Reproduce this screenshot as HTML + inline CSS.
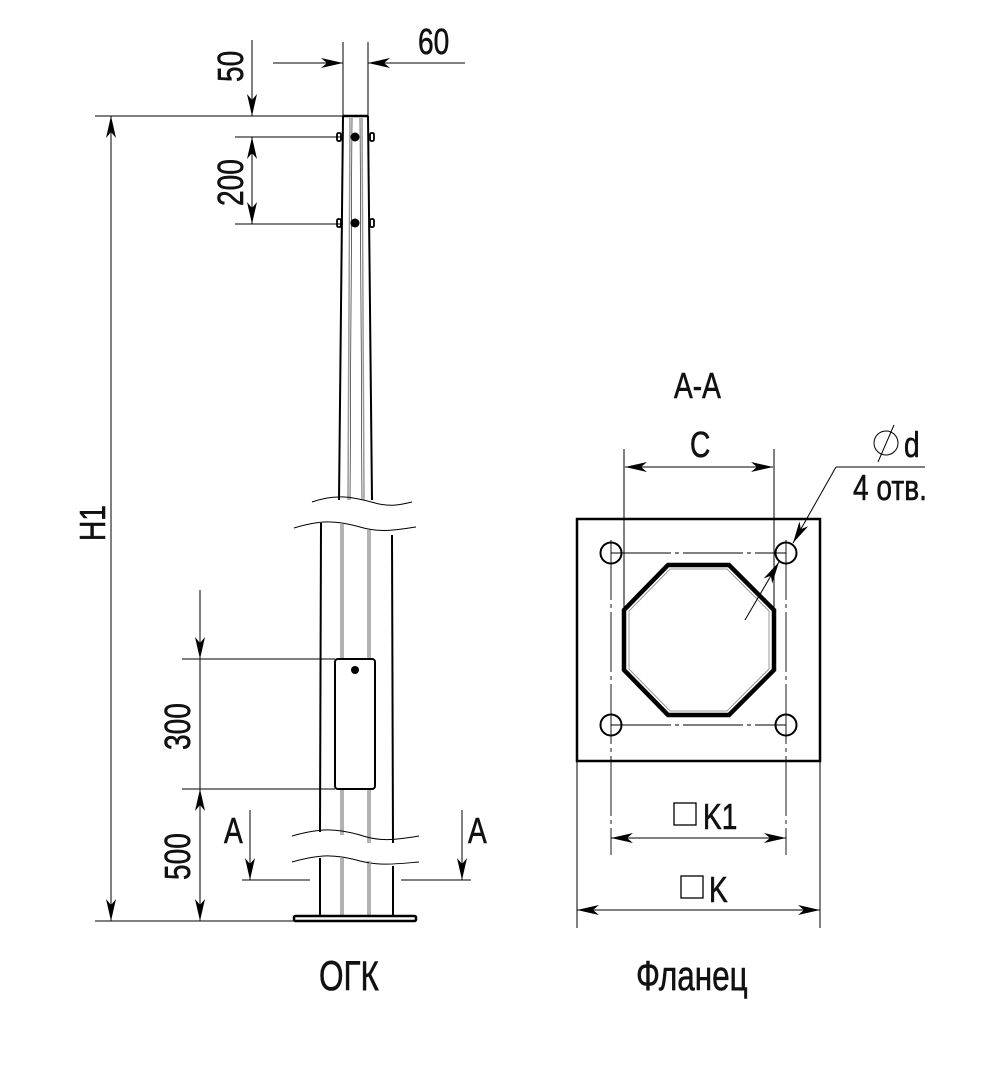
<!DOCTYPE html>
<html><head><meta charset="utf-8"><style>
html,body{margin:0;padding:0;background:#fff;}
svg{display:block}
text{font-family:"Liberation Sans Narrow","Liberation Sans",sans-serif;fill:#111;stroke:#111;stroke-width:0.6;}
</style></head><body>
<svg width="989" height="1072" viewBox="0 0 989 1072" xmlns="http://www.w3.org/2000/svg">
<defs>
<marker id="a" viewBox="0 0 22 10" refX="22" refY="5" markerWidth="22" markerHeight="10" markerUnits="userSpaceOnUse" orient="auto-start-reverse">
<path d="M0,0 L22,5 L0,10 L6,5 Z" fill="#000"/></marker>
</defs>
<g stroke="#000" stroke-width="1" fill="none">
<line x1="343" y1="42" x2="343" y2="116"/>
<line x1="368" y1="42" x2="368" y2="116"/>
<line x1="273" y1="63" x2="343" y2="63" marker-end="url(#a)"/>
<line x1="465" y1="63" x2="368" y2="63" marker-end="url(#a)"/>
<line x1="252" y1="40" x2="252" y2="116" marker-end="url(#a)"/>
<line x1="252" y1="137" x2="252" y2="224" marker-start="url(#a)" marker-end="url(#a)"/>
<line x1="95" y1="116" x2="343" y2="116"/>
<line x1="235" y1="137" x2="343" y2="137"/>
<line x1="235" y1="224" x2="343" y2="224"/>
<line x1="111" y1="116" x2="111" y2="921" marker-start="url(#a)" marker-end="url(#a)"/>
<line x1="95" y1="921" x2="294" y2="921"/>
<line x1="200" y1="590" x2="200" y2="659" marker-end="url(#a)"/>
<line x1="200" y1="659" x2="200" y2="789"/>
<line x1="200" y1="789" x2="200" y2="921" marker-start="url(#a)" marker-end="url(#a)"/>
<line x1="182" y1="659" x2="335" y2="659"/>
<line x1="182" y1="789" x2="335" y2="789"/>
<line x1="250" y1="810" x2="250" y2="880" marker-end="url(#a)"/>
<line x1="242" y1="880" x2="310" y2="880"/>
<line x1="462" y1="810" x2="462" y2="880" marker-end="url(#a)"/>
<line x1="401" y1="880" x2="471" y2="880"/>
</g>
<g fill="none">
<path d="M343,116 L339,500 M368,116 L372,500" stroke="#000" stroke-width="2"/>
<line x1="343" y1="116" x2="368" y2="116" stroke="#000" stroke-width="2.5"/>
<path d="M350,118 L348,500 M362,118 L364,500" stroke="#999" stroke-width="1.5"/>
<path d="M352,118 L350,500 M360,118 L362,500" stroke="#000" stroke-width="0.6"/>
<g stroke="#000" stroke-width="1.8">
<rect x="337" y="133" width="4" height="8" rx="1.5"/><rect x="370" y="133" width="4" height="8" rx="1.5"/>
<rect x="337" y="219" width="4" height="8" rx="1.5"/><rect x="370" y="219" width="4" height="8" rx="1.5"/>
</g>
<circle cx="355" cy="137" r="4.5" fill="#000"/><circle cx="355" cy="223" r="4.5" fill="#000"/>
<path d="M312,502 C335,494 350,496 375,503 C390,507 400,505 412,502" stroke="#000" stroke-width="1"/>
<path d="M294,528 C320,520 335,520 360,527 C380,533 395,530 416,527" stroke="#000" stroke-width="1"/>
<path d="M321,523 L320,832 M392,535 L393,843" stroke="#000" stroke-width="2"/>
<path d="M341,524 L341,659 M370,530 L370,659 M341,789 L341,835 M370,789 L370,843" stroke="#999" stroke-width="1.5"/>
<path d="M343,524 L343,659 M368,530 L368,659 M343,789 L343,835 M368,789 L368,843" stroke="#000" stroke-width="0.6"/>
<path d="M292,836 C320,828 335,828 360,835 C380,842 395,840 419,836" stroke="#000" stroke-width="1"/>
<path d="M292,862 C320,854 335,854 360,861 C380,866 395,864 419,862" stroke="#000" stroke-width="1"/>
<path d="M320,858 L320,916 M393,866 L393,916" stroke="#000" stroke-width="2"/>
<path d="M341,858 L341,916 M370,861 L370,916" stroke="#999" stroke-width="1.5"/>
<path d="M343,858 L343,916 M368,861 L368,916" stroke="#000" stroke-width="0.6"/>
<rect x="294" y="916" width="122" height="5" rx="1.5" stroke="#000" stroke-width="2.5" fill="#fff"/>
<rect x="335" y="659" width="40" height="130" rx="3" stroke="#000" stroke-width="2" fill="#fff"/>
<circle cx="355" cy="670" r="4" fill="#000"/>
</g>
<g fill="none" stroke="#000">
<rect x="577" y="519" width="243" height="242" stroke-width="2.5"/>
<polygon points="668,565 729,565 774,610 774,670 729,715 668,715 624,670 624,610" stroke-width="4.5"/>
<polygon points="670,569 727,569 769,611 769,669 727,711 670,711 629,669 629,611" stroke="#999" stroke-width="1"/>
<g stroke-width="2">
<circle cx="611" cy="553" r="10.5"/><circle cx="786" cy="553" r="10.5"/>
<circle cx="611" cy="725" r="10.5"/><circle cx="786" cy="725" r="10.5"/>
</g>
<g stroke-width="0.9" stroke-dasharray="60,4,4,4">
<line x1="611" y1="553" x2="786" y2="553"/><line x1="611" y1="725" x2="786" y2="725"/>
<line x1="611" y1="540" x2="611" y2="855"/><line x1="786" y1="540" x2="786" y2="855"/>
</g>
<g stroke-width="1">
<line x1="624" y1="449" x2="624" y2="612"/><line x1="774" y1="449" x2="774" y2="612"/>
<line x1="625" y1="467" x2="773" y2="467" marker-start="url(#a)" marker-end="url(#a)"/>
<line x1="611" y1="838" x2="786" y2="838" marker-start="url(#a)" marker-end="url(#a)"/>
<line x1="577" y1="761" x2="577" y2="928"/><line x1="820" y1="761" x2="820" y2="928"/>
<line x1="577" y1="910" x2="820" y2="910" marker-start="url(#a)" marker-end="url(#a)"/>
<line x1="836" y1="467" x2="925" y2="467"/>
<line x1="836" y1="467" x2="793" y2="543" marker-end="url(#a)"/>
<line x1="745" y1="620" x2="779" y2="562" marker-end="url(#a)"/>
<circle cx="886" cy="443" r="12"/>
<line x1="878" y1="462" x2="894" y2="425"/>
<rect x="674" y="803" width="22" height="22" stroke-width="1.3"/>
<rect x="681" y="876" width="22" height="22" stroke-width="1.3"/>
</g>
</g>
<g font-size="36">
<text transform="translate(243,82) rotate(-90) scale(0.78,1)">50</text>
<text transform="translate(243,206) rotate(-90) scale(0.78,1)">200</text>
<text transform="translate(418,54) scale(0.78,1)">60</text>
<text transform="translate(105,541) rotate(-90) scale(0.78,1)">H1</text>
<text transform="translate(190,750) rotate(-90) scale(0.78,1)">300</text>
<text transform="translate(190,880) rotate(-90) scale(0.78,1)">500</text>
<text transform="translate(224,843) scale(0.78,1)">A</text>
<text transform="translate(468,843) scale(0.78,1)">A</text>
<text transform="translate(674,398) scale(0.78,1)">A-A</text>
<text transform="translate(690,457) scale(0.78,1)">C</text>
<text transform="translate(904,457) scale(0.78,1)">d</text>
<text transform="translate(853,500) scale(0.78,1)">4 отв.</text>
<text transform="translate(703,829) scale(0.78,1)">K1</text>
<text transform="translate(709,902) scale(0.78,1)">K</text>
</g>
<g font-size="42">
<text transform="translate(319,990) scale(0.75,1)">ОГК</text>
<text transform="translate(636,990) scale(0.75,1)">Фланец</text>
</g>
</svg>
</body></html>
